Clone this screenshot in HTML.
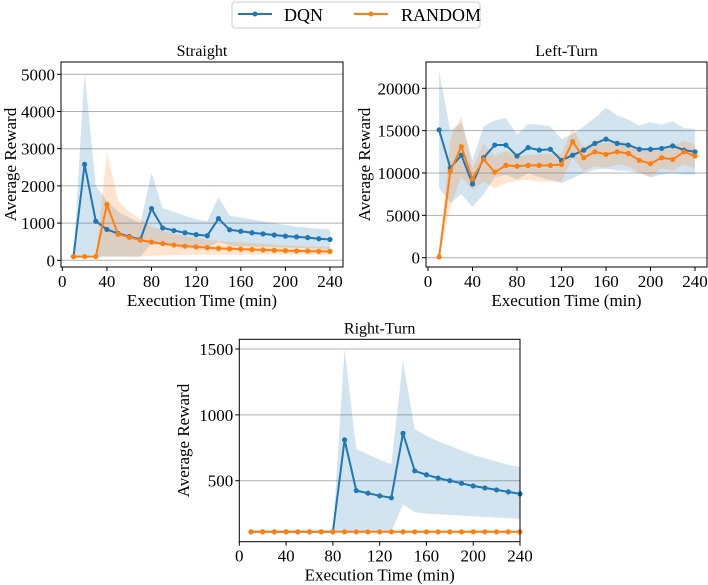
<!DOCTYPE html>
<html><head><meta charset="utf-8"><style>
html,body{margin:0;padding:0;background:#fff;}
svg{display:block;font-family:"Liberation Serif",serif;}
</style></head><body>
<svg id="fig" width="708" height="585" viewBox="0 0 708 585" xmlns="http://www.w3.org/2000/svg">
<g>
<rect x="232" y="2" width="248" height="26" rx="3" fill="#fff" stroke="#ccc" stroke-width="1"/>
<g>
<line x1="238" y1="14" x2="272" y2="14" stroke="#1f77b4" stroke-width="2"/><circle cx="255" cy="14" r="2.5" fill="#1f77b4"/>
<text x="284" y="21" font-size="18">DQN</text></g>
<g>
<line x1="354" y1="14" x2="388" y2="14" stroke="#ff7f0e" stroke-width="2"/><circle cx="371" cy="14" r="2.5" fill="#ff7f0e"/>
<text x="401" y="21" font-size="18">RANDOM</text></g>
</g>
</svg>
<script>
const xs=[10,20,30,40,50,60,70,80,90,100,110,120,130,140,150,160,170,180,190,200,210,220,230,240];
const xTicks=[0,40,80,120,160,200,240];
// Straight
const sDqn=[100,2580,1050,830,720,640,560,1390,870,800,740,690,660,1120,820,780,740,710,680,650,630,610,580,560];
const sDqnHi=[100,5050,2000,1600,1300,1150,1000,2350,1400,1300,1200,1100,1050,1700,1200,1150,1100,1050,1000,950,900,880,850,820];
const sDqnLo=[100,100,100,100,100,100,100,450,400,380,360,340,320,500,400,380,370,360,350,340,330,320,310,300];
const sRnd=[100,100,100,1500,700,620,540,490,450,410,380,360,340,320,310,300,290,280,270,260,250,250,240,240];
const sRndHi=[100,100,100,2900,1600,1300,1100,900,800,720,650,600,560,520,500,480,460,440,420,400,390,380,370,360];
const sRndLo=[100,100,100,100,100,100,100,120,130,140,140,150,150,150,150,150,150,150,150,150,150,150,150,150];
const sYTicks=[0,1000,2000,3000,4000,5000];
// Left-Turn
const lDqn=[15100,10600,12100,8700,11800,13300,13300,12000,13000,12700,12800,11500,12100,12700,13500,14000,13500,13300,12800,12800,12900,13200,12700,12500];
const lDqnHi=[22000,15000,16000,11500,15500,16200,16500,14500,15800,15700,15500,14000,14600,15500,16500,17700,16800,16300,15600,16000,15700,16100,15300,15200];
const lDqnLo=[8200,6500,7500,6000,7500,9500,9800,9200,10000,9500,9200,8800,9400,10000,10400,10500,10300,10200,10000,9500,9800,10000,9800,9800];
const lRnd=[100,10200,13100,9300,11600,10100,10900,10800,10900,10900,10900,11000,13700,11800,12500,12200,12500,12300,11500,11100,11800,11600,12500,12000];
const lRndHi=[100,14000,16700,10500,13500,12000,12600,12000,12100,12200,12300,12300,15300,13000,13800,13500,13800,13600,12800,12600,13000,13200,13800,13400];
const lRndLo=[100,6000,9500,8000,9000,8200,8800,9100,9200,9000,9000,9000,11800,10200,10800,10600,11000,10800,10000,9600,10500,10300,11000,10500];
const lYTicks=[0,5000,10000,15000,20000];
// Right-Turn
const rDqn=[112,112,112,112,112,112,112,112,810,425,405,385,370,860,575,545,520,500,480,460,445,430,415,400];
const rDqnHi=[112,112,112,112,112,112,112,112,1500,740,700,660,625,1410,890,840,800,765,730,695,670,645,620,605];
const rDqnLo=[112,112,112,112,112,112,112,112,112,112,112,112,112,320,260,250,245,240,235,230,225,220,215,210];
const rRnd=[112,112,112,112,112,112,112,112,112,112,112,112,112,112,112,112,112,112,112,112,112,112,112,112];
const rYTicks=[500,1000,1500];

const NS='http://www.w3.org/2000/svg';
const svg=document.getElementById('fig');
function mk(tag,attrs,parent){const e=document.createElementNS(NS,tag);for(const k in attrs)e.setAttribute(k,attrs[k]);(parent||svg).appendChild(e);return e;}

function panel(cfg){
  const g=mk('g',{});
  
  
  const X=v=>cfg.x0+(v-cfg.xa)*(cfg.x1-cfg.x0)/(cfg.xb-cfg.xa);
  const Y=v=>cfg.y0+(v-cfg.ya)*(cfg.y1-cfg.y0)/(cfg.yb-cfg.ya);
  const B=cfg.box;
  cfg.yTicks.forEach(t=>{const l=mk('line',{x1:B[0],x2:B[2],y1:Y(t),y2:Y(t),stroke:'#b0b0b0','stroke-width':1},g);
    });
  const band=(lo,hi,color,nm)=>{let d='';xs.forEach((x,i)=>{d+=(i?'L':'M')+X(x).toFixed(1)+','+Y(hi[i]).toFixed(1);});
    for(let i=xs.length-1;i>=0;i--)d+='L'+X(xs[i]).toFixed(1)+','+Y(lo[i]).toFixed(1);d+='Z';
    const p=mk('path',{d:d,fill:color,'fill-opacity':0.2,stroke:'none'},g);
    };
  const line=(vals,color,nm)=>{const pts=xs.map((x,i)=>X(x).toFixed(1)+','+Y(vals[i]).toFixed(1)).join(' ');
    const pl=mk('polyline',{points:pts,fill:'none',stroke:color,'stroke-width':2,'stroke-linejoin':'round'},g);
    
    xs.forEach((x,i)=>{const c=mk('circle',{cx:X(x),cy:Y(vals[i]),r:2.6,fill:color},g);
      });};
  if(cfg.dHi)band(cfg.dLo,cfg.dHi,'#1f77b4','dqn-band');
  if(cfg.rHi)band(cfg.rLo,cfg.rHi,'#ff7f0e','random-band');
  line(cfg.d,'#1f77b4','dqn');
  line(cfg.r,'#ff7f0e','random');
  const f=mk('rect',{x:B[0],y:B[1],width:B[2]-B[0],height:B[3]-B[1],fill:'none',stroke:'#000','stroke-width':1},g);
  
  xTicks.forEach(t=>{mk('line',{x1:X(t),x2:X(t),y1:B[3],y2:B[3]+4,stroke:'#000'},g);
    const tx=mk('text',{x:X(t),y:B[3]+20,'font-size':17,'text-anchor':'middle'},g);tx.textContent=t;
    });
  cfg.yTicks.forEach(t=>{mk('line',{x1:B[0],x2:B[0]-4,y1:Y(t),y2:Y(t),stroke:'#000'},g);
    const tx=mk('text',{x:B[0]-6,y:Y(t)+6,'font-size':17,'text-anchor':'end'},g);tx.textContent=t;
    });
  const tt=mk('text',{x:(B[0]+B[2])/2,y:B[1]-6,'font-size':16,'text-anchor':'middle'},g);tt.textContent=cfg.title;
  
  const xl=mk('text',{x:(B[0]+B[2])/2,y:B[3]+39,'font-size':17,'text-anchor':'middle'},g);xl.textContent='Execution Time (min)';
  
  const yx=cfg.ylx,yy=(B[1]+B[3])/2;
  const yl=mk('text',{x:yx,y:yy,'font-size':17,'text-anchor':'middle',transform:`rotate(-90 ${yx} ${yy})`},g);yl.textContent='Average Reward';
  
}
panel({name:'straight-panel',title:'Straight',box:[61,62,343,267],xa:0,xb:240,x0:62.3,x1:330,ya:0,yb:5000,y0:260.3,y1:74.3,
  yTicks:sYTicks,d:sDqn,dHi:sDqnHi,dLo:sDqnLo,r:sRnd,rHi:sRndHi,rLo:sRndLo,ylx:16});
panel({name:'left-turn-panel',title:'Left-Turn',box:[426,62,707,267],xa:0,xb:240,x0:428,x1:695,ya:0,yb:20000,y0:257.7,y1:88.3,
  yTicks:lYTicks,d:lDqn,dHi:lDqnHi,dLo:lDqnLo,r:lRnd,rHi:lRndHi,rLo:lRndLo,ylx:370});
panel({name:'right-turn-panel',title:'Right-Turn',box:[239.3,339.3,520,541.7],xa:0,xb:240,x0:239.3,x1:520,ya:500,yb:1500,y0:480.7,y1:349,
  yTicks:rYTicks,d:rDqn,dHi:rDqnHi,dLo:rDqnLo,r:rRnd,ylx:189});
</script>
</body></html>
